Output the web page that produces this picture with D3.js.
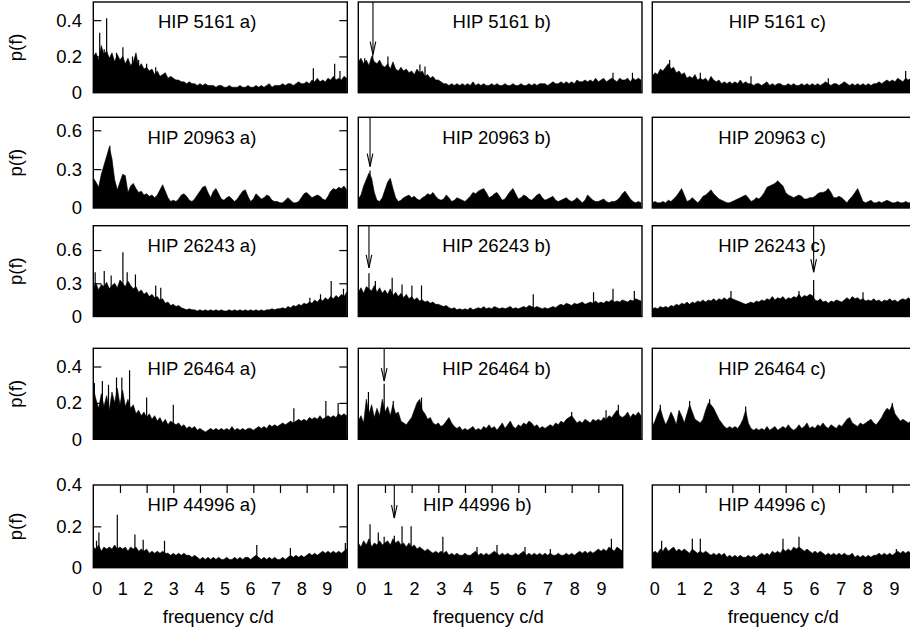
<!DOCTYPE html>
<html><head><meta charset="utf-8">
<script src="https://cdn.jsdelivr.net/npm/d3@7"></script>
<style>body{margin:0;background:#fff}svg{display:block;font-family:"Liberation Sans",Arial,Helvetica,sans-serif}</style>
</head><body><svg id="c" width="910" height="632"></svg>
<script>
// ---------- DATA ----------
const STEP = 0.1; // frequency spacing of the series (c/d), series start at 0
const stars = ["HIP 5161","HIP 20963","HIP 26243","HIP 26464","HIP 44996"];
const cases = ["a)","b)","c)"];
const yMax = [0.5,0.7,0.82,0.5,0.4];
const yTicks = [[0,0.2,0.4],[0,0.3,0.6],[0,0.3,0.6],[0,0.2,0.4],[0,0.2,0.4]];
const yTickLabels = [["0","0.2","0.4"],["0","0.3","0.6"],["0","0.3","0.6"],["0","0.2","0.4"],["0","0.2","0.4"]];
const xTicks = [0,1,2,3,4,5,6,7,8,9];
const xLabel = "frequency c/d";
const yLabel = "p(f)";

const s5161a = [0.20,0.22,0.18,0.26,0.21,0.23,0.19,0.22,0.17,0.21, 0.18,0.20,0.16,0.19,0.15,0.17,0.22,0.14,0.16,0.13, 0.14,0.12,0.13,0.10,0.12,0.09,0.10,0.11,0.08,0.09, 0.08,0.07,0.07,0.06,0.06,0.05,0.06,0.05,0.05,0.04, 0.05,0.04,0.05,0.04,0.04,0.04,0.03,0.04,0.04,0.03, 0.03,0.04,0.03,0.03,0.03,0.04,0.03,0.03,0.04,0.03, 0.03,0.04,0.03,0.04,0.03,0.04,0.05,0.03,0.04,0.04, 0.04,0.05,0.04,0.05,0.05,0.04,0.05,0.06,0.05,0.05, 0.06,0.05,0.07,0.06,0.08,0.06,0.07,0.06,0.08,0.07, 0.09,0.07,0.08,0.07,0.09,0.08];
const s5161b = [0.17,0.19,0.16,0.18,0.15,0.20,0.17,0.16,0.18,0.15, 0.14,0.16,0.13,0.17,0.13,0.12,0.14,0.12,0.13,0.11, 0.12,0.10,0.13,0.11,0.12,0.09,0.10,0.08,0.09,0.07, 0.07,0.06,0.05,0.05,0.04,0.05,0.04,0.05,0.04,0.05, 0.04,0.05,0.04,0.06,0.04,0.05,0.04,0.05,0.04,0.04, 0.05,0.04,0.05,0.04,0.04,0.05,0.04,0.04,0.05,0.04, 0.04,0.05,0.04,0.04,0.05,0.04,0.05,0.04,0.05,0.05, 0.05,0.04,0.05,0.06,0.05,0.05,0.06,0.05,0.06,0.05, 0.06,0.05,0.07,0.06,0.06,0.07,0.06,0.07,0.06,0.08, 0.06,0.07,0.08,0.06,0.07,0.08,0.07,0.06,0.08,0.07, 0.07,0.08,0.06,0.08,0.07,0.08,0.07];
const s5161c = [0.09,0.11,0.10,0.13,0.12,0.14,0.16,0.13,0.14,0.11, 0.12,0.10,0.11,0.08,0.09,0.08,0.10,0.07,0.08,0.07, 0.08,0.06,0.09,0.07,0.06,0.07,0.05,0.06,0.05,0.06, 0.05,0.06,0.05,0.07,0.05,0.06,0.05,0.05,0.04,0.05, 0.05,0.04,0.05,0.06,0.04,0.05,0.04,0.05,0.05,0.04, 0.04,0.05,0.04,0.05,0.04,0.04,0.05,0.04,0.05,0.04, 0.05,0.04,0.05,0.04,0.05,0.06,0.05,0.04,0.05,0.05, 0.04,0.05,0.06,0.05,0.04,0.05,0.04,0.05,0.04,0.05, 0.04,0.05,0.04,0.05,0.05,0.06,0.05,0.06,0.07,0.06, 0.07,0.06,0.08,0.07,0.06,0.08,0.07,0.08,0.07,0.08];

const s20963a = [0.23,0.20,0.16,0.26,0.33,0.40,0.47,0.38,0.22,0.14, 0.20,0.26,0.25,0.12,0.17,0.19,0.15,0.12,0.13,0.10, 0.11,0.09,0.10,0.08,0.10,0.14,0.18,0.13,0.08,0.05, 0.06,0.05,0.07,0.10,0.11,0.09,0.06,0.05,0.07,0.10, 0.13,0.16,0.17,0.12,0.08,0.13,0.15,0.11,0.07,0.06, 0.08,0.09,0.07,0.05,0.07,0.10,0.13,0.14,0.09,0.05, 0.07,0.11,0.09,0.07,0.08,0.10,0.09,0.06,0.05,0.05, 0.04,0.04,0.06,0.08,0.06,0.04,0.04,0.05,0.08,0.11, 0.12,0.10,0.08,0.09,0.10,0.09,0.07,0.06,0.09,0.13, 0.15,0.14,0.16,0.15,0.17,0.14];
const s20963b = [0.07,0.10,0.17,0.22,0.27,0.23,0.12,0.06,0.05,0.08, 0.14,0.20,0.23,0.15,0.08,0.05,0.06,0.08,0.09,0.10, 0.08,0.09,0.07,0.06,0.08,0.09,0.11,0.10,0.12,0.09, 0.07,0.06,0.07,0.10,0.08,0.05,0.06,0.08,0.07,0.06, 0.05,0.07,0.09,0.12,0.11,0.13,0.14,0.15,0.12,0.08, 0.09,0.11,0.12,0.09,0.06,0.07,0.10,0.13,0.15,0.11, 0.07,0.08,0.10,0.09,0.07,0.06,0.08,0.10,0.11,0.08, 0.06,0.07,0.08,0.09,0.06,0.05,0.06,0.07,0.08,0.06, 0.05,0.06,0.08,0.06,0.04,0.06,0.10,0.08,0.06,0.05, 0.05,0.06,0.07,0.05,0.04,0.05,0.05,0.06,0.08,0.11, 0.13,0.10,0.07,0.05,0.04,0.05,0.04];
const s20963c = [0.04,0.05,0.04,0.04,0.05,0.04,0.06,0.05,0.07,0.09, 0.12,0.15,0.10,0.05,0.06,0.08,0.06,0.04,0.06,0.09, 0.10,0.12,0.14,0.11,0.09,0.07,0.06,0.05,0.04,0.04, 0.05,0.06,0.07,0.08,0.09,0.10,0.08,0.05,0.06,0.08, 0.07,0.09,0.12,0.16,0.17,0.18,0.19,0.21,0.19,0.17, 0.12,0.10,0.09,0.08,0.09,0.10,0.09,0.07,0.07,0.08, 0.08,0.09,0.11,0.12,0.12,0.13,0.15,0.12,0.08,0.08, 0.09,0.08,0.06,0.04,0.07,0.09,0.12,0.15,0.10,0.05, 0.04,0.05,0.06,0.04,0.04,0.05,0.04,0.05,0.06,0.05, 0.04,0.04,0.05,0.04,0.04,0.05,0.04,0.04,0.05,0.04];

const s26243a = [0.26,0.30,0.24,0.29,0.27,0.31,0.25,0.28,0.30,0.26, 0.33,0.30,0.27,0.32,0.28,0.25,0.27,0.22,0.24,0.20, 0.22,0.18,0.20,0.17,0.18,0.15,0.16,0.12,0.13,0.10, 0.11,0.09,0.10,0.08,0.07,0.06,0.07,0.06,0.06,0.05, 0.06,0.05,0.06,0.05,0.06,0.05,0.06,0.05,0.06,0.05, 0.05,0.06,0.05,0.06,0.05,0.06,0.05,0.06,0.05,0.06, 0.05,0.06,0.05,0.06,0.05,0.06,0.06,0.07,0.06,0.07, 0.07,0.08,0.07,0.09,0.08,0.10,0.09,0.11,0.10,0.12, 0.11,0.13,0.12,0.15,0.13,0.16,0.14,0.17,0.15,0.18, 0.16,0.19,0.17,0.20,0.18,0.22];
const s26243b = [0.22,0.26,0.21,0.27,0.25,0.23,0.28,0.22,0.26,0.21, 0.24,0.20,0.25,0.19,0.22,0.18,0.21,0.17,0.20,0.16, 0.18,0.15,0.17,0.14,0.15,0.13,0.14,0.12,0.13,0.11, 0.11,0.10,0.09,0.10,0.08,0.07,0.08,0.06,0.07,0.06, 0.07,0.06,0.08,0.06,0.07,0.08,0.07,0.09,0.07,0.08, 0.07,0.09,0.08,0.07,0.08,0.07,0.08,0.09,0.07,0.08, 0.07,0.08,0.09,0.08,0.10,0.09,0.08,0.09,0.08,0.07, 0.08,0.07,0.08,0.09,0.08,0.10,0.11,0.10,0.12,0.11, 0.10,0.12,0.11,0.12,0.13,0.11,0.12,0.13,0.12,0.14, 0.12,0.13,0.12,0.14,0.13,0.15,0.13,0.14,0.13,0.15, 0.14,0.13,0.15,0.14,0.16,0.15,0.14];
const s26243c = [0.07,0.08,0.07,0.09,0.08,0.09,0.08,0.10,0.09,0.11, 0.10,0.12,0.11,0.13,0.11,0.13,0.12,0.14,0.13,0.15, 0.13,0.15,0.14,0.16,0.14,0.16,0.15,0.17,0.15,0.17, 0.16,0.15,0.14,0.13,0.12,0.11,0.12,0.13,0.12,0.14, 0.13,0.15,0.14,0.16,0.15,0.18,0.15,0.17,0.16,0.18, 0.15,0.17,0.16,0.18,0.17,0.20,0.17,0.19,0.18,0.20, 0.19,0.15,0.14,0.16,0.13,0.14,0.12,0.14,0.13,0.15, 0.14,0.13,0.15,0.17,0.15,0.18,0.16,0.17,0.15,0.16, 0.14,0.15,0.14,0.16,0.14,0.15,0.13,0.15,0.14,0.16, 0.14,0.15,0.13,0.15,0.16,0.15,0.17,0.15,0.16,0.15];

const s26464a = [0.28,0.22,0.17,0.25,0.18,0.24,0.16,0.26,0.20,0.28, 0.19,0.27,0.18,0.22,0.17,0.19,0.14,0.16,0.13,0.15, 0.12,0.14,0.11,0.13,0.10,0.12,0.09,0.11,0.08,0.10, 0.09,0.08,0.09,0.07,0.08,0.06,0.07,0.06,0.07,0.05, 0.06,0.05,0.04,0.05,0.06,0.05,0.06,0.05,0.06,0.05, 0.06,0.05,0.07,0.05,0.06,0.05,0.06,0.05,0.06,0.06, 0.05,0.06,0.07,0.06,0.07,0.06,0.08,0.07,0.08,0.07, 0.08,0.09,0.08,0.09,0.10,0.09,0.10,0.11,0.10,0.11, 0.10,0.12,0.11,0.12,0.11,0.13,0.11,0.12,0.13,0.12, 0.13,0.12,0.14,0.13,0.14,0.13];
const s26464b = [0.10,0.13,0.09,0.22,0.14,0.19,0.12,0.17,0.13,0.22, 0.15,0.18,0.13,0.19,0.14,0.15,0.10,0.09,0.08,0.10, 0.12,0.16,0.20,0.22,0.16,0.14,0.11,0.12,0.09,0.08, 0.09,0.07,0.08,0.10,0.12,0.09,0.07,0.06,0.07,0.05, 0.06,0.05,0.06,0.07,0.05,0.06,0.05,0.07,0.06,0.08, 0.06,0.07,0.05,0.07,0.09,0.06,0.08,0.10,0.07,0.06, 0.08,0.07,0.09,0.08,0.10,0.09,0.07,0.08,0.06,0.07, 0.06,0.07,0.08,0.07,0.09,0.08,0.10,0.09,0.11,0.12, 0.13,0.11,0.09,0.10,0.09,0.11,0.10,0.09,0.11,0.10, 0.11,0.10,0.12,0.11,0.13,0.12,0.14,0.16,0.13,0.12, 0.13,0.15,0.12,0.14,0.13,0.15,0.13];
const s26464c = [0.07,0.10,0.14,0.17,0.12,0.08,0.11,0.15,0.12,0.08, 0.16,0.13,0.09,0.14,0.19,0.15,0.11,0.10,0.09,0.11, 0.16,0.20,0.19,0.17,0.14,0.11,0.09,0.07,0.06,0.07, 0.06,0.07,0.06,0.08,0.11,0.16,0.09,0.06,0.05,0.06, 0.05,0.06,0.05,0.07,0.05,0.06,0.07,0.05,0.06,0.07, 0.06,0.08,0.06,0.05,0.06,0.08,0.06,0.07,0.09,0.06, 0.07,0.06,0.08,0.07,0.09,0.07,0.06,0.08,0.07,0.06, 0.08,0.07,0.09,0.11,0.12,0.09,0.08,0.07,0.09,0.08, 0.09,0.10,0.11,0.09,0.08,0.10,0.12,0.15,0.17,0.16, 0.19,0.14,0.12,0.10,0.11,0.10,0.09,0.10,0.09,0.08];

const s44996a = [0.10,0.09,0.11,0.08,0.10,0.09,0.10,0.09,0.11,0.09, 0.10,0.09,0.10,0.08,0.10,0.09,0.10,0.08,0.09,0.08, 0.09,0.07,0.08,0.07,0.08,0.07,0.08,0.07,0.07,0.06, 0.07,0.06,0.07,0.06,0.07,0.06,0.06,0.05,0.06,0.05, 0.04,0.05,0.04,0.05,0.04,0.05,0.04,0.05,0.04,0.04, 0.05,0.04,0.04,0.05,0.04,0.05,0.04,0.05,0.05,0.04, 0.05,0.06,0.05,0.04,0.05,0.04,0.05,0.04,0.05,0.04, 0.04,0.05,0.04,0.05,0.06,0.05,0.06,0.05,0.06,0.05, 0.06,0.07,0.06,0.07,0.06,0.07,0.08,0.07,0.08,0.07, 0.08,0.07,0.08,0.07,0.08,0.09];
const s44996b = [0.12,0.10,0.13,0.11,0.14,0.10,0.12,0.11,0.13,0.11, 0.12,0.13,0.11,0.14,0.12,0.13,0.11,0.12,0.10,0.12, 0.10,0.11,0.09,0.10,0.09,0.08,0.09,0.08,0.07,0.08, 0.07,0.08,0.07,0.08,0.06,0.07,0.06,0.07,0.06,0.06, 0.07,0.06,0.06,0.07,0.08,0.06,0.07,0.06,0.07,0.06, 0.07,0.08,0.07,0.06,0.07,0.06,0.07,0.06,0.06,0.07, 0.06,0.07,0.08,0.06,0.07,0.06,0.07,0.06,0.07,0.06, 0.07,0.06,0.07,0.06,0.06,0.07,0.06,0.06,0.07,0.06, 0.07,0.06,0.07,0.08,0.07,0.08,0.07,0.08,0.07,0.08, 0.09,0.08,0.09,0.08,0.10,0.09,0.08,0.10,0.09,0.08];
const s44996c = [0.07,0.08,0.07,0.09,0.08,0.10,0.08,0.09,0.10,0.08, 0.09,0.08,0.09,0.08,0.07,0.09,0.08,0.07,0.08,0.07, 0.08,0.07,0.06,0.07,0.06,0.07,0.06,0.07,0.05,0.06, 0.05,0.06,0.05,0.06,0.05,0.05,0.06,0.05,0.06,0.05, 0.06,0.07,0.06,0.07,0.06,0.08,0.07,0.08,0.07,0.09, 0.08,0.09,0.08,0.10,0.09,0.10,0.09,0.08,0.09,0.08, 0.07,0.08,0.07,0.08,0.07,0.06,0.07,0.06,0.07,0.06, 0.07,0.06,0.07,0.06,0.06,0.07,0.05,0.06,0.05,0.06, 0.05,0.06,0.05,0.06,0.06,0.07,0.06,0.07,0.06,0.07, 0.06,0.07,0.08,0.07,0.08,0.07,0.08,0.07,0.08,0.07];

// isolated tall spikes [frequency, p(f)]
const k5161a = [[0.24,0.33],[0.41,0.24],[0.5,0.41],[0.87,0.22],[1.11,0.25],[1.47,0.20],[1.7,0.18],[2.0,0.16],[2.34,0.14],[8.25,0.135],[9.05,0.16],[9.25,0.12]];
const k5161b = [[0.24,0.19],[0.54,0.21],[1.11,0.20],[2.31,0.155],[2.5,0.145],[9.55,0.11],[10.28,0.11]];
const k5161c = [[0.65,0.18],[1.8,0.11],[3.7,0.09],[6.6,0.08],[9.5,0.12]];
const k20963a = [[0.62,0.48]];
const k20963b = [[0.44,0.29]];
const k20963c = [];
const k26243a = [[0.07,0.40],[0.41,0.41],[0.67,0.37],[1.11,0.58],[1.27,0.40],[1.58,0.38],[2.34,0.28],[2.53,0.26],[8.12,0.17],[8.52,0.20],[8.92,0.32],[9.38,0.25]];
const k26243b = [[0.40,0.39],[0.64,0.32],[1.27,0.35],[1.64,0.29],[2.01,0.28],[2.37,0.28],[6.56,0.20],[8.82,0.22],[9.55,0.25],[10.35,0.23]];
const k26243c = [[2.95,0.23],[5.5,0.23],[6.05,0.33],[7.9,0.22]];
const k26464a = [[0.04,0.31],[0.34,0.32],[0.57,0.30],[0.87,0.34],[1.07,0.34],[1.36,0.38],[2.0,0.23],[3.0,0.19],[7.52,0.17],[8.72,0.21],[9.18,0.20]];
const k26464b = [[0.38,0.26],[0.97,0.305],[1.31,0.21],[2.37,0.23],[8.0,0.15],[9.29,0.16],[9.75,0.19]];
const k26464c = [[0.3,0.19],[1.4,0.21],[2.15,0.22],[3.5,0.18],[9.0,0.20]];
const k44996a = [[0.12,0.13],[0.21,0.17],[0.9,0.256],[1.56,0.16],[1.87,0.135],[2.67,0.13],[6.13,0.11],[7.39,0.095],[9.45,0.12]];
const k44996b = [[0.44,0.21],[0.75,0.17],[0.97,0.15],[1.35,0.155],[1.64,0.20],[1.98,0.20],[3.17,0.15],[4.45,0.10],[5.2,0.11],[6.25,0.10],[7.2,0.09],[9.49,0.14]];
const k44996c = [[0.35,0.13],[1.5,0.14],[1.8,0.14],[4.9,0.14],[5.5,0.15],[9.15,0.09]];

// arrows [row, column, frequency, p(f) at arrow tip]
const arrowMarks = [[0,1,0.55,0.21],[1,1,0.44,0.32],[2,1,0.40,0.44],[2,2,6.05,0.40],[3,1,0.97,0.32],[4,1,1.35,0.24]];

const series = [[s5161a,s5161b,s5161c],[s20963a,s20963b,s20963c],[s26243a,s26243b,s26243c],[s26464a,s26464b,s26464c],[s44996a,s44996b,s44996c]];
const spikes = [[k5161a,k5161b,k5161c],[k20963a,k20963b,k20963c],[k26243a,k26243b,k26243c],[k26464a,k26464b,k26464c],[k44996a,k44996b,k44996c]];

// ---------- LAYOUT ----------
const PXU = 26.67; // pixels per c/d
const rowTop = [2,117.3,225.7,348.3,485];
const rowBot = [92.7,208,316.5,439.3,567.7];
const colLeft = [93.3,358.3,652.3];
const colRight = [347.3,642,917];
const colRightLast = [347.3,622.7,917];
const labelRange = [[96.7,326.7],[360.7,601],[654.3,894]];
const xTitleX = [218.3,488.3,783.3];
const FS = 18.5;

const svg = d3.select("#c");
const defs = svg.append("defs");

function styleTicks(g){ g.select(".domain").remove(); g.selectAll("line").attr("stroke","#000").attr("stroke-width",1.2); }

for (let r = 0; r < 5; r++) {
  const y = d3.scaleLinear().domain([0, yMax[r]]).range([rowBot[r], rowTop[r]]);
  // y labels
  const ya = d3.axisLeft(y).tickValues(yTicks[r]).tickSize(0).tickPadding(0)
    .tickFormat((d,i) => yTickLabels[r][i]);
  const gy = svg.append("g").attr("transform","translate(82,0)").call(ya);
  gy.select(".domain").remove();
  gy.selectAll("text").attr("font-size",FS).attr("font-family","Liberation Sans, Arial, sans-serif").attr("fill","#000");
  svg.append("text").attr("transform",`translate(22,${(rowTop[r]+rowBot[r])/2}) rotate(-90)`)
    .attr("text-anchor","middle").attr("font-size",FS).text(yLabel);

  for (let c = 0; c < 3; c++) {
    const left = colLeft[c], right = (r===4 ? colRightLast : colRight)[c];
    const x = d3.scaleLinear().domain([0,(right-left)/PXU]).range([left,right]);
    const id = `clip${r}${c}`;
    defs.append("clipPath").attr("id",id).append("rect")
      .attr("x",left).attr("y",rowTop[r]).attr("width",right-left).attr("height",rowBot[r]-rowTop[r]);
    const g = svg.append("g");
    const gd = g.append("g").attr("clip-path",`url(#${id})`);
    const area = d3.area().x((d,i)=>x(i*STEP)).y0(y(0)).y1(d=>y(d));
    gd.append("path").datum(series[r][c]).attr("d",area).attr("fill","#000").attr("stroke","#000").attr("stroke-width",0.6);
    gd.selectAll("line.sp").data(spikes[r][c]).join("line").attr("class","sp")
      .attr("x1",d=>x(d[0])).attr("x2",d=>x(d[0])).attr("y1",y(0)).attr("y2",d=>y(d[1]))
      .attr("stroke","#000").attr("stroke-width",1.2);
    g.append("rect").attr("x",left).attr("y",rowTop[r]).attr("width",right-left).attr("height",rowBot[r]-rowTop[r])
      .attr("fill","none").attr("stroke","#000").attr("stroke-width",1.4);
    // y ticks (both sides) for first column
    if (c === 0) {
      const tv = yTicks[r].filter(v => v > 0 && y(v) > rowTop[r] + 2);
      styleTicks(g.append("g").attr("transform",`translate(${right},0)`)
        .call(d3.axisLeft(y).tickValues(tv).tickSize(8).tickFormat("")));
      styleTicks(g.append("g").attr("transform",`translate(${left},0)`)
        .call(d3.axisRight(y).tickValues(tv).tickSize(8).tickFormat("")));
    }
    // bottom row: top ticks and frequency labels
    if (r === 4) {
      styleTicks(g.append("g").attr("transform",`translate(0,${rowTop[r]})`)
        .call(d3.axisBottom(x).tickValues(xTicks.filter(v=>v>0)).tickSize(8).tickFormat("")));
      const xl = d3.scaleLinear().domain([0,9]).range(labelRange[c]);
      const gl = svg.append("g").attr("transform","translate(0,582)")
        .call(d3.axisBottom(xl).tickValues(xTicks).tickSize(0).tickPadding(0).tickFormat(d3.format("d")));
      gl.select(".domain").remove();
      gl.selectAll("text").attr("font-size",18).attr("font-family","Liberation Sans, Arial, sans-serif").attr("fill","#000");
      svg.append("text").attr("x",xTitleX[c]).attr("y",623).attr("text-anchor","middle")
        .attr("font-size",FS).text(xLabel);
    }
    // panel title
    g.append("text").attr("x",right-91).attr("y",rowTop[r]+20).attr("dy","0.35em")
      .attr("text-anchor","end").attr("font-size",FS).text(`${stars[r]} ${cases[c]}`);
  }
  // arrows
  arrowMarks.filter(a => a[0] === r).forEach(a => {
    const c = a[1];
    const left = colLeft[c], right = (r===4 ? colRightLast : colRight)[c];
    const x = d3.scaleLinear().domain([0,(right-left)/PXU]).range([left,right]);
    const ax = x(a[2]), ty = y(a[3]);
    svg.append("line").attr("x1",ax).attr("x2",ax).attr("y1",rowTop[r]).attr("y2",ty)
      .attr("stroke","#000").attr("stroke-width",1.1);
    svg.append("path").attr("d",`M${ax-2.8},${ty-13}L${ax},${ty}L${ax+2.8},${ty-13}`)
      .attr("fill","none").attr("stroke","#000").attr("stroke-width",1.1);
  });
}
</script></body></html>
